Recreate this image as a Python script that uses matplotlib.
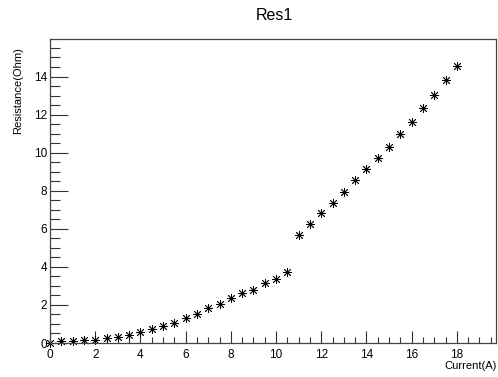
import numpy as np
import matplotlib
matplotlib.use('Agg')
import matplotlib.pyplot as plt
from matplotlib.ticker import MultipleLocator

plt.rcParams['font.family'] = ['Liberation Sans', 'DejaVu Sans']

# measured current (A) and resistance (Ohm)
current = [0.0, 0.5, 1.0, 1.5, 2.0, 2.5, 3.0, 3.5, 4.0, 4.5, 5.0, 5.5,
           6.0, 6.5, 7.0, 7.5, 8.0, 8.5, 9.0, 9.5, 10.0, 10.5,
           11.0, 11.5, 12.0, 12.5, 13.0, 13.5, 14.0, 14.5, 15.0, 15.5,
           16.0, 16.5, 17.0, 17.5, 18.0]
resistance = [0.02, 0.08, 0.12, 0.15, 0.17, 0.25, 0.30, 0.43, 0.60, 0.74, 0.90, 1.07,
              1.30, 1.52, 1.82, 2.07, 2.35, 2.63, 2.80, 3.14, 3.38, 3.73,
              5.65, 6.23, 6.82, 7.38, 7.92, 8.55, 9.13, 9.71, 10.32, 11.00,
              11.62, 12.34, 13.04, 13.79, 14.53]

W, H = 498, 377
fig = plt.figure(figsize=(W / 100, H / 100), dpi=100)
ax = fig.add_axes([50 / W, (H - 343) / H, 446 / W, (343 - 39) / H])

ax.plot(current, resistance, linestyle='none', marker=(8, 2, 0),
        markersize=6.5, markeredgewidth=0.6, color='black', clip_on=False)

ax.set_xlim(0, 19.73)
ax.set_ylim(0, 15.97)

ax.xaxis.set_major_locator(MultipleLocator(2))
ax.xaxis.set_minor_locator(MultipleLocator(0.5))
ax.yaxis.set_major_locator(MultipleLocator(2))
ax.yaxis.set_minor_locator(MultipleLocator(0.5))

ax.tick_params(axis='both', which='both', direction='in', top=False, right=False,
               labelsize=8.5, width=0.8, color='#333333')
ax.tick_params(axis='x', which='major', length=9, pad=4)
ax.tick_params(axis='x', which='minor', length=4.5)
ax.tick_params(axis='y', which='major', length=13, pad=2)
ax.tick_params(axis='y', which='minor', length=7)

for s in ax.spines.values():
    s.set_linewidth(0.9)
    s.set_color('#444444')

fig.text(274 / W, 1 - 15 / H, 'Res1', ha='center', va='center', fontsize=11.5)
fig.text(497 / W, 1 - 366 / H, 'Current(A)', ha='right', va='center', fontsize=8)
fig.text(18 / W, 1 - 47 / H, 'Resistance(Ohm)', ha='center', va='top',
         rotation=90, fontsize=8)

fig.savefig('out.png', dpi=100)
